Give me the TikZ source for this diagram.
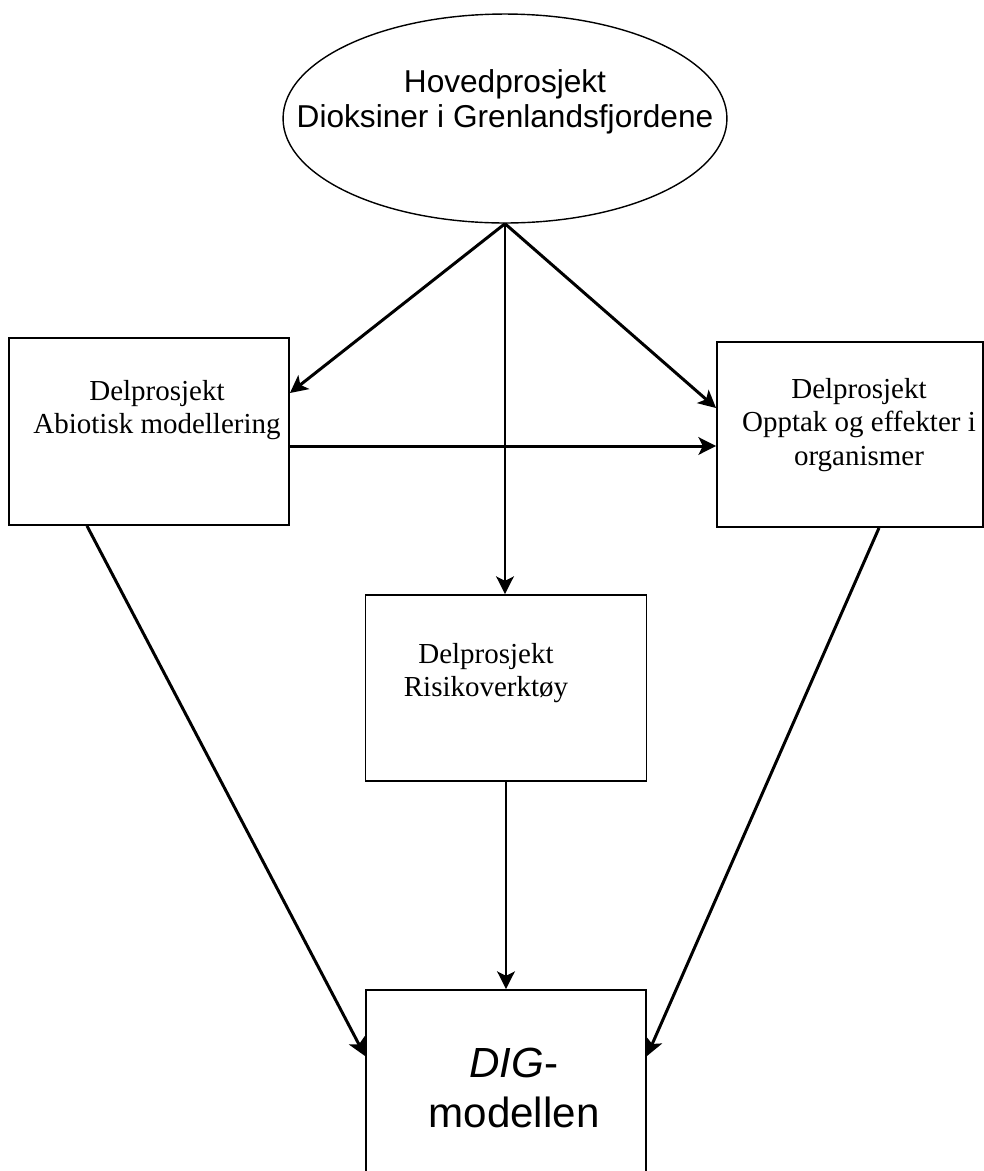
\documentclass[tikz,border=0pt]{standalone}
\usepackage{fontspec}
\setmainfont{Liberation Serif}
\newfontfamily\arialfont{Liberation Sans}
\usetikzlibrary{arrows.meta,shapes.geometric}

\begin{document}
\begin{tikzpicture}[x=0.02cm, y=-0.02cm,
    delbox/.style={draw, line width=1.1pt, inner sep=0pt},
    deltxt/.style={align=center, inner sep=0pt, font=\fontsize{16.5}{19}\selectfont},
    pil/.style={-{Stealth[length=10pt,width=10pt,inset=2.5pt]}, line width=1.7pt}]
  \useasboundingbox (0,0) rectangle (984,1171);
  \clip (0,0) rectangle (984,1171);

  \node[draw, ellipse, line width=0.8pt, inner sep=0pt, minimum width=8.88cm, minimum height=4.18cm] (hoved) at (505,118.5) {};
  \node[align=center, inner sep=0pt, font=\arialfont\fontsize{18}{19.8}\selectfont] (hovedtxt) at (505,102)
    {Hovedprosjekt\\Dioksiner i Grenlandsfjordene};

  \node[delbox, minimum width=5.6cm, minimum height=3.74cm] (abiotisk) at (149,431.5) {};
  \node[deltxt] (abiotisktxt) at (157,410) {Delprosjekt\\Abiotisk modellering};

  \node[delbox, minimum width=5.32cm, minimum height=3.7cm] (opptak) at (850,434.5) {};
  \node[deltxt] (opptaktxt) at (859,425) {Delprosjekt\\Opptak og effekter i\\organismer};

  \node[delbox, minimum width=5.62cm, minimum height=3.72cm] (risiko) at (506,688) {};
  \node[deltxt] (risikotxt) at (486,673) {Delprosjekt\\Risikoverktøy};

  \node[delbox, minimum width=5.6cm, minimum height=3.8cm] (dig) at (506,1085) {};
  \node[align=center, inner sep=0pt, font=\arialfont\fontsize{24}{28.3}\selectfont] (digtxt) at (514,1088)
    {{\itshape DIG}-\\modellen};

  \draw[pil] (hoved.south) -- ([yshift=0.77cm]abiotisk.east);
  \draw[pil] (hoved.south) -- ([yshift=0.53cm]opptak.west);
  \draw[pil] (hoved.south) -- (hoved.south |- risiko.north);
  \draw[pil] ([yshift=-0.29cm]abiotisk.east) -- ([yshift=-0.29cm]abiotisk.east -| opptak.west);
  \draw[pil] ([xshift=-1.24cm]abiotisk.south) -- ([yshift=-1.34cm]dig.north west);
  \draw[pil] ([xshift=0.58cm]opptak.south) -- ([yshift=-1.34cm]dig.north east);
  \draw[pil] (risiko.south) -- (dig.north);
\end{tikzpicture}
\end{document}
